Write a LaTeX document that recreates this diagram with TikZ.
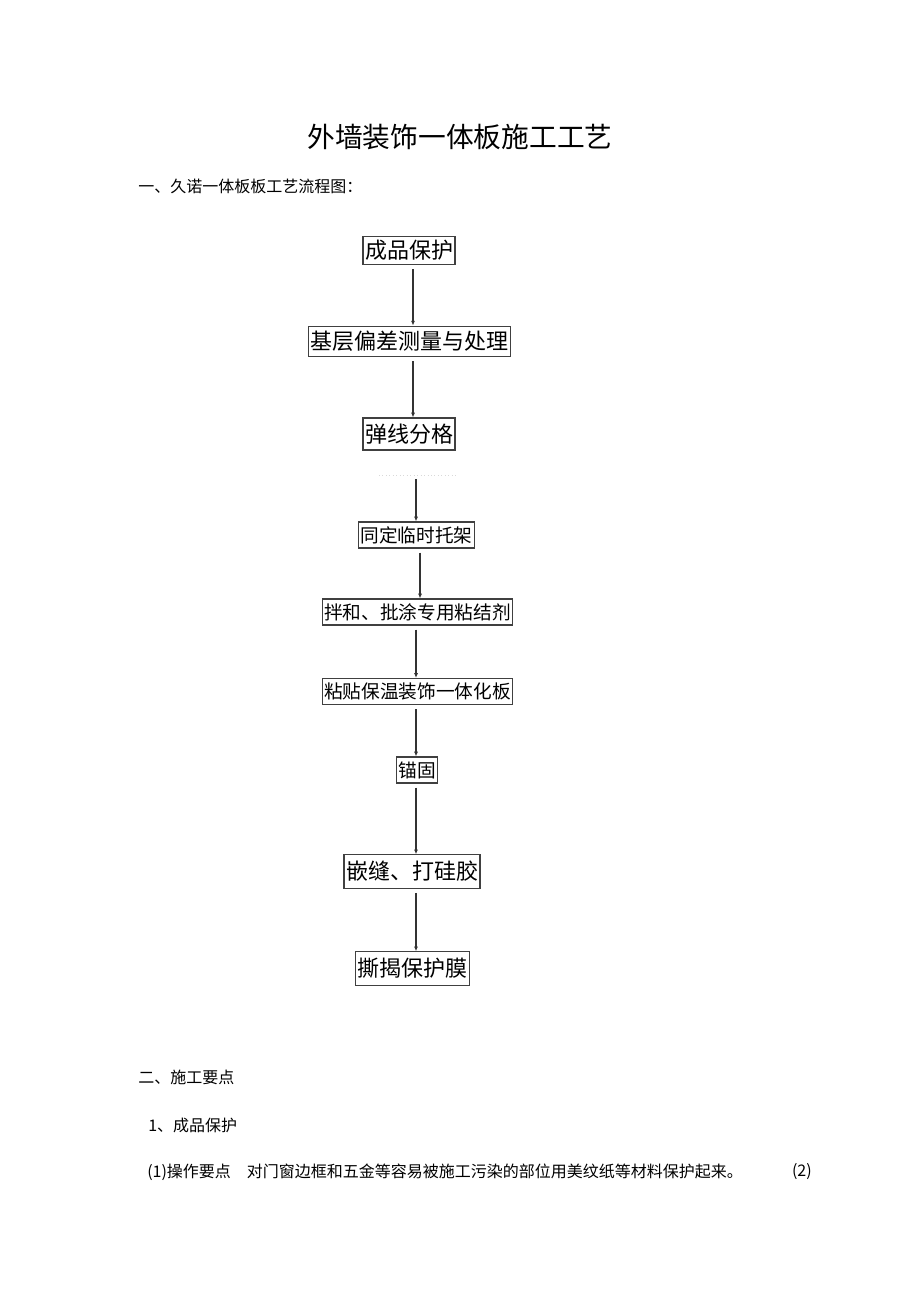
\documentclass[tikz,border=0pt]{standalone}
\usepackage{fontspec}
\setmainfont{Noto Sans CJK SC}
\usetikzlibrary{arrows.meta,calc}
\begin{document}
\begin{tikzpicture}[x=0.75pt,y=-0.75pt,
  box/.style={draw=black!75,line width=0.9pt,inner xsep=1.5pt,inner ysep=0pt},
  bigbox/.style={box,font=\fontsize{16.5}{18}\selectfont,minimum height=23pt},
  smallbox/.style={box,font=\fontsize{14}{16}\selectfont,minimum height=19.5pt},
  txt/.style={anchor=west,inner sep=0pt,font=\fontsize{12}{14}\selectfont},
  flow/.style={-{Latex[length=3.5pt,width=3pt]},line width=0.8pt,black!80,shorten <=3pt}]
\useasboundingbox (0,0) rectangle (920,1302);
\node[font=\fontsize{20.8}{24}\selectfont] (title) at (460,137) {外墙装饰一体板施工工艺};
\node[txt] (h1) at (138,186) {一、久诺一体板板工艺流程图：};

\node[bigbox,minimum height=21pt] (b1) at (409,250.5) {成品保护};
\node[bigbox] (b2) at (409.5,341.5) {基层偏差测量与处理};
\node[bigbox,minimum height=24pt] (b3) at (409,434) {弹线分格};
\node[smallbox] (b4) at (416.5,535) {同定临时托架};
\node[smallbox] (b5) at (417.5,612) {拌和、批涂专用粘结剂};
\node[smallbox] (b6) at (417.5,691.5) {粘贴保温装饰一体化板};
\node[smallbox] (b7) at (417,770) {锚固};
\node[bigbox,minimum height=25pt] (b8) at (412,871.5) {嵌缝、打硅胶};
\node[bigbox,minimum height=25pt] (b9) at (412.5,968.5) {撕揭保护膜};

\draw[gray!30,dotted,line width=0.6pt] (379,475) -- (456,475);
\coordinate (gap) at (416,479);

\draw[flow] ($(b1.south)+(4,0)$) -- ($(b2.north)+(3.5,0)$);
\draw[flow] ($(b2.south)+(3.5,0)$) -- ($(b3.north)+(4,0)$);
\draw[flow,shorten <=0pt] (gap) -- ($(b4.north)+(-0.5,0)$);
\draw[flow] ($(b4.south)+(3.5,0)$) -- ($(b5.north)+(2.5,0)$);
\draw[flow] ($(b5.south)+(-1.5,0)$) -- ($(b6.north)+(-1.5,0)$);
\draw[flow] ($(b6.south)+(-1.5,0)$) -- ($(b7.north)+(-1,0)$);
\draw[flow] ($(b7.south)+(-1,0)$) -- ($(b8.north)+(4,0)$);
\draw[flow] ($(b8.south)+(4,0)$) -- ($(b9.north)+(3.5,0)$);

\node[txt] (h2) at (138,1077) {二、施工要点};
\node[txt] (h21) at (148,1125) {1、成品保护};
\node[txt] (p1) at (147,1172) {(1)操作要点　对门窗边框和五金等容易被施工污染的部位用美纹纸等材料保护起来。};
\node[txt,anchor=east] (p2) at (812,1172) {(2)};
\end{tikzpicture}
\end{document}
